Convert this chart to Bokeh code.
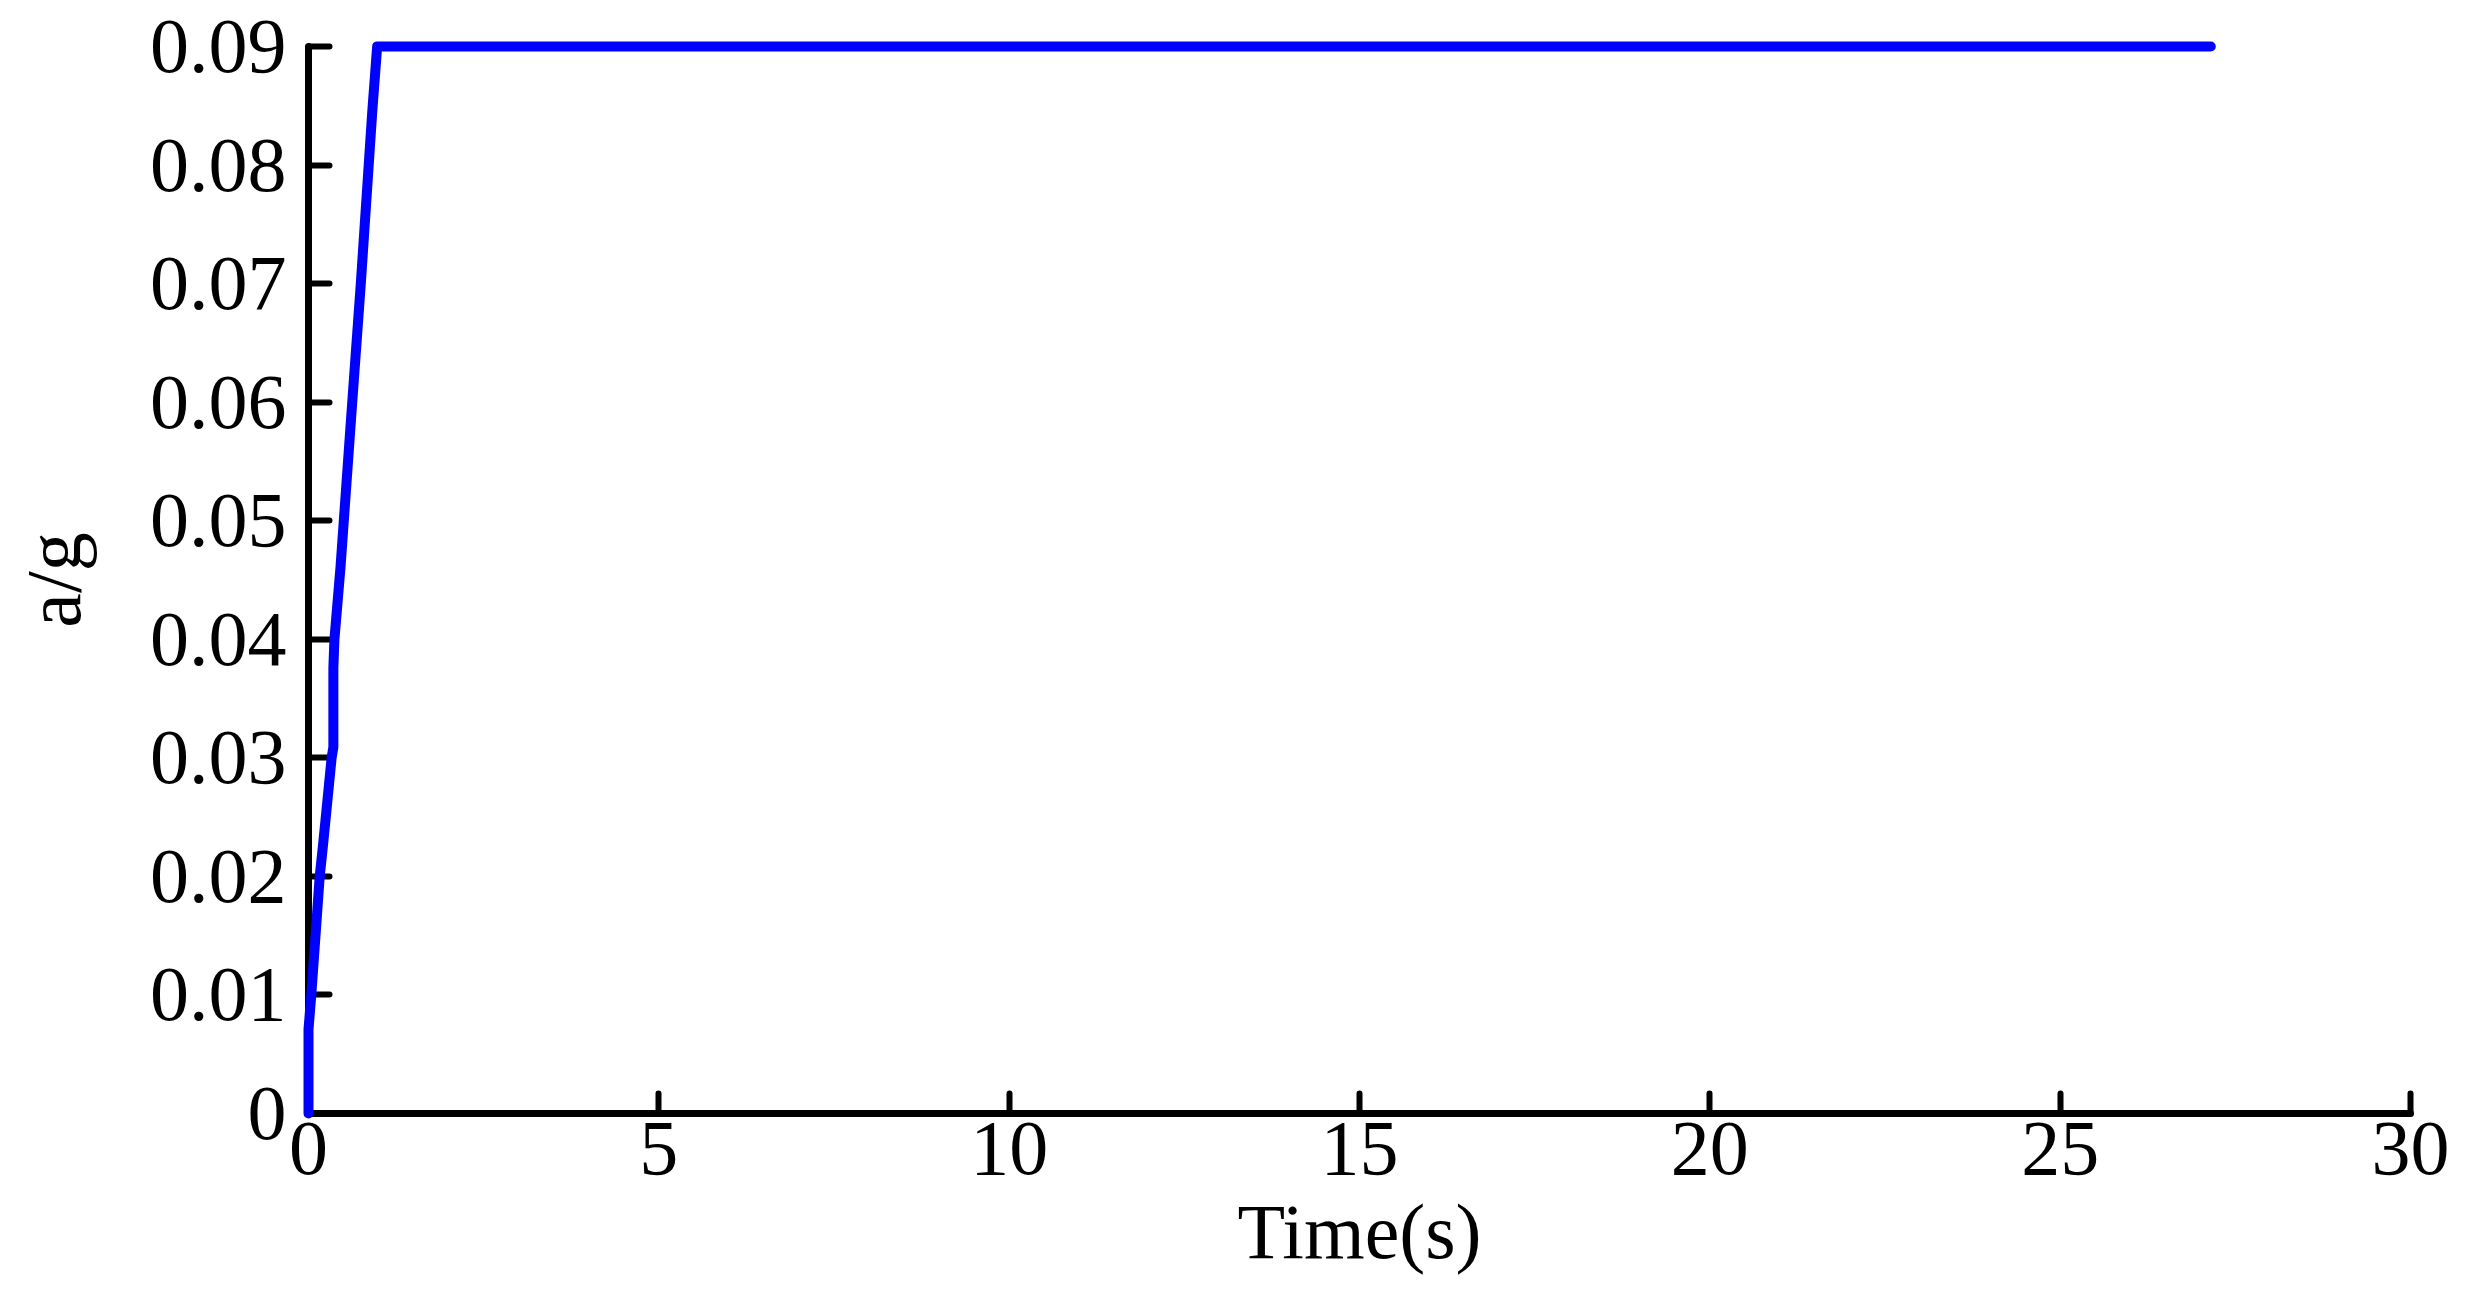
from bokeh.plotting import figure
from bokeh.models import Range1d, FixedTicker, ColumnDataSource
from bokeh.embed import file_html
from bokeh.resources import INLINE

# Data
time_s = [0, 0, 0.04, 0.16, 0.21, 0.33, 0.355, 0.355, 0.37, 0.457, 0.6, 0.75, 0.91, 0.98, 27.15]
a_over_g = [0, 0.0071, 0.01, 0.02, 0.0228, 0.03, 0.0309, 0.0376, 0.04, 0.0461, 0.058, 0.0703, 0.0845, 0.09, 0.09]

x_ticks = [0, 5, 10, 15, 20, 25, 30]
x_tick_labels = ["0", "5", "10", "15", "20", "25", "30"]
y_ticks = [0, 0.01, 0.02, 0.03, 0.04, 0.05, 0.06, 0.07, 0.08, 0.09]
y_tick_labels = ["0", "0.01", "0.02", "0.03", "0.04", "0.05", "0.06", "0.07", "0.08", "0.09"]

FONT = "Liberation Serif"
FS = "78px"

p = figure(
    frame_width=2102, frame_height=1067,
    min_border_left=308, min_border_right=48, min_border_top=46, min_border_bottom=181,
    x_range=Range1d(0, 30), y_range=Range1d(0, 0.09),
    output_backend="svg", toolbar_location=None,
    x_axis_label="Time(s)", y_axis_label="a/g",
)
p.outline_line_color = None
p.grid.visible = False
p.background_fill_color = "white"
p.border_fill_color = "white"

src = ColumnDataSource(dict(t=time_s, a=a_over_g))
r = p.line("t", "a", source=src, line_color="#0000FF", line_width=10,
           line_cap="round", line_join="round")
r.level = "overlay"

for ax in (p.xaxis[0], p.yaxis[0]):
    ax.axis_line_color = "black"
    ax.axis_line_width = 7
    ax.axis_line_cap = "round"
    ax.major_tick_line_color = "black"
    ax.major_tick_line_width = 6
    ax.major_tick_line_cap = "round"
    ax.major_tick_out = 0
    ax.minor_tick_line_color = None
    ax.major_label_text_font = FONT
    ax.major_label_text_font_size = FS
    ax.major_label_text_color = "black"
    ax.axis_label_text_font = FONT
    ax.axis_label_text_font_size = FS
    ax.axis_label_text_font_style = "normal"
    ax.axis_label_text_color = "black"

xa = p.xaxis[0]
xa.ticker = FixedTicker(ticks=x_ticks)
xa.major_label_overrides = {t: l for t, l in zip(x_ticks, x_tick_labels)}
xa.major_tick_in = 20
xa.major_label_standoff = 9
xa.axis_label_standoff = 11

ya = p.yaxis[0]
ya.ticker = FixedTicker(ticks=y_ticks)
ya.major_label_overrides = {t: l for t, l in zip(y_ticks, y_tick_labels)}
ya.major_tick_in = 21
ya.major_label_standoff = 22
ya.axis_label_standoff = 50

open("out.html", "w").write(file_html(p, INLINE))
